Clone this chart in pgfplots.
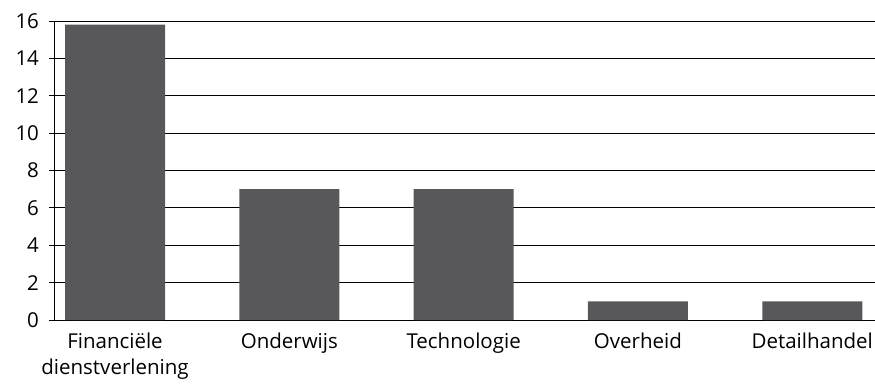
\documentclass[border=0pt]{standalone}
\usepackage{fontspec}
\setmainfont{Open Sans}
\usepackage{pgfplots}
\pgfplotsset{compat=1.18}
\definecolor{barcol}{HTML}{58585A}
\begin{document}
\fontsize{20.5pt}{26pt}\selectfont
\begin{tikzpicture}
\useasboundingbox (-54pt,-64pt) rectangle (821pt,320pt);
\begin{axis}[
  at={(0pt,0pt)}, anchor=south west,
  scale only axis,
  width=821pt, height=299pt,
  xmin=-0.35, xmax=4.36,
  ymin=0, ymax=16,
  ytick={0,2,...,16},
  xtick=data,
  xticklabels={{Financiële\\dienstverlening},Onderwijs,Technologie,Overheid,Detailhandel},
  x tick label style={align=center, yshift=-1pt, font=\fontsize{20.5pt}{26pt}\selectfont},
  y tick label style={font=\fontsize{20.5pt}{26pt}\selectfont, xshift=-3pt},
  /pgf/number format/assume math mode=true,
  ymajorgrids,
  grid style={black, line width=0.8pt},
  axis line style={black, line width=0.8pt},
  axis x line=bottom, axis y line=left,
  x axis line style={-}, y axis line style={-},
  ytick style={black, line width=0.8pt},
  ytick align=outside, major tick length=5pt,
  xtick style={draw=none},
  ybar, bar width=100pt,
  axis on top=false,
]
\addplot[fill=barcol, draw=none] coordinates {(0,15.8) (1,7) (2,7) (3,1) (4,1)};
\end{axis}
\end{tikzpicture}
\end{document}
